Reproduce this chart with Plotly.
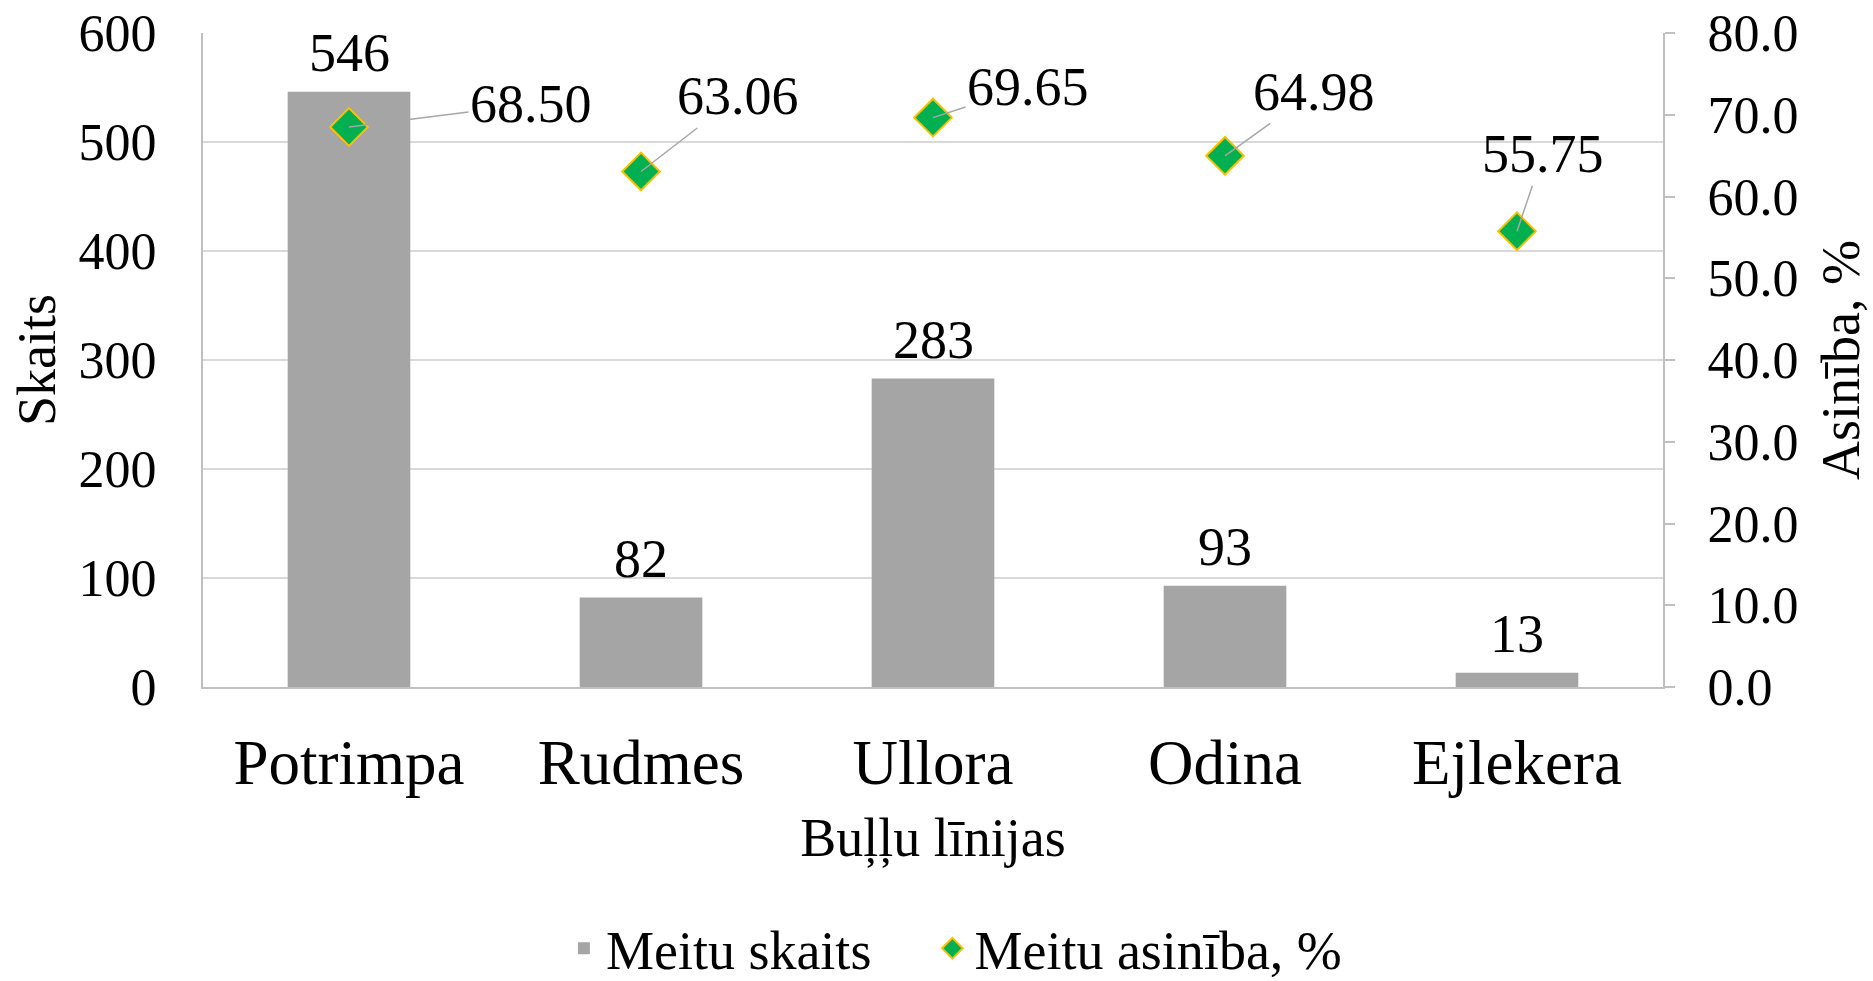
import plotly.graph_objects as go

categories = ["Potrimpa", "Rudmes", "Ullora", "Odina", "Ejlekera"]
counts = [546, 82, 283, 93, 13]
purity = [68.50, 63.06, 69.65, 64.98, 55.75]
# label offsets (pixels) for the purity data labels
label_ax = [182, 97, 95, 89, 26]
label_ay = [-23, -75, -31, -64, -77]

FONT = "Liberation Serif, Times New Roman, serif"
NB = "\u00a0" * 4  # spacing between legend entries

fig = go.Figure()
fig.add_trace(go.Bar(
    x=categories, y=counts, name="Meitu skaits" + NB,
    marker=dict(color="#A5A5A5", line=dict(width=0)),
    width=0.42,
))
fig.add_trace(go.Scatter(
    x=categories, y=purity, name="Meitu asinība, %", yaxis="y2",
    mode="markers",
    marker=dict(symbol="diamond", size=29, color="#00B050",
                line=dict(color="#FFC000", width=2)),
))

# bar value labels
for c, v in zip(categories, counts):
    fig.add_annotation(
        x=c, y=v, xref="x", yref="y", text=str(v), showarrow=False,
        yanchor="bottom", yshift=7,
        font=dict(family=FONT, size=54, color="black"),
    )

# purity labels with leader lines
for c, v, ax, ay in zip(categories, purity, label_ax, label_ay):
    fig.add_annotation(
        x=c, y=v, xref="x", yref="y2", text=f"{v:.2f}",
        showarrow=True, arrowhead=0, arrowwidth=1.5, arrowcolor="#A6A6A6",
        ax=ax, ay=ay, standoff=0, startstandoff=0,
        font=dict(family=FONT, size=54, color="black"),
    )

fig.update_layout(
    width=1873, height=981,
    margin=dict(l=203, r=210, t=33, b=294, autoexpand=False),
    paper_bgcolor="white", plot_bgcolor="white",
    font=dict(family=FONT, color="black"),
    bargap=0.58,
    showlegend=True,
    legend=dict(orientation="h", xref="container", yref="container",
                x=0.300, y=0.033, xanchor="left", yanchor="middle",
                font=dict(family=FONT, size=54), itemwidth=34,
                traceorder="normal"),
    xaxis=dict(
        automargin=False,
        showgrid=False, showline=True, linecolor="#BFBFBF", linewidth=2,
        tickfont=dict(family=FONT, size=63), ticks="",
        ticklabelstandoff=19,
        title=dict(text="Buļļu līnijas", font=dict(family=FONT, size=54), standoff=22),
    ),
    yaxis=dict(
        automargin=False,
        range=[0, 600], dtick=100, showgrid=True, gridcolor="#D9D9D9", gridwidth=2,
        showline=True, linecolor="#BFBFBF", linewidth=2, ticks="",
        tickfont=dict(family=FONT, size=52), ticklabelstandoff=34,
        ticklabeloverflow="allow",
        zeroline=False,
        title=dict(text="Skaits", font=dict(family=FONT, size=54), standoff=6),
    ),
    yaxis2=dict(
        automargin=False,
        range=[0, 80], dtick=10, tickformat=".1f", overlaying="y", side="right",
        showgrid=False, showline=True, linecolor="#BFBFBF", linewidth=2,
        ticks="outside", ticklen=10, tickcolor="#BFBFBF", tickwidth=2,
        tickfont=dict(family=FONT, size=52), ticklabelstandoff=22,
        ticklabeloverflow="allow",
        zeroline=False,
        title=dict(text="Asinība, %", font=dict(family=FONT, size=54), standoff=24),
    ),
)

fig.write_html("out.html", config={"displayModeBar": False},
               post_script="document.body.style.margin='0';")
